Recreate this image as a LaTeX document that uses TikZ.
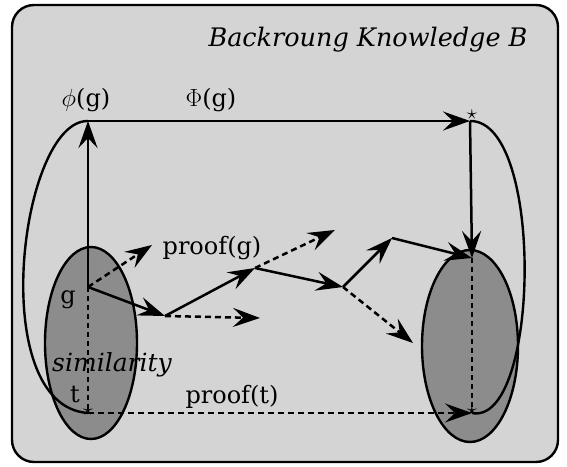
\documentclass[tikz,border=0pt]{standalone}
\usepackage{fontspec}
\setmainfont{DejaVu Serif}
\usetikzlibrary{arrows.meta}
\definecolor{bgdots}{RGB}{212,212,212}
\definecolor{setfill}{RGB}{140,140,140}

\begin{document}
\begin{tikzpicture}[x=1pt,y=1pt,
  sol/.style={line width=2.5pt,-{Stealth[length=27pt,width=19pt,inset=10pt]}},
  dsh/.style={sol,dash pattern=on 6pt off 4pt},
  dline/.style={line width=2.2pt,dash pattern=on 5pt off 4pt},
  lbl/.style={font=\fontsize{24}{26}\selectfont,inner sep=1pt},
  starmk/.style={inner sep=0pt,font=\fontsize{22}{22}\selectfont}]
  \useasboundingbox (0,0) rectangle (567,466);
  % knowledge frame
  \filldraw[bgdots,draw=black,line width=2.4pt,rounded corners=22pt] (12,4) rectangle (558,461);
  % the two sets
  \filldraw[setfill,draw=black,line width=2.4pt] (91,123) ellipse [x radius=46pt,y radius=96pt];
  \filldraw[setfill,draw=black,line width=2.4pt] (470,120) ellipse [x radius=48pt,y radius=96pt];
  % points
  \coordinate (phi) at (88,345);
  \coordinate (topR) at (470,345);
  \coordinate (g) at (88,179);
  \coordinate (t) at (88,53);
  \coordinate (midR) at (472,208);
  \coordinate (botR) at (472,53);
  \coordinate (p1) at (165,150);
  \coordinate (p2) at (255,198);
  \coordinate (p3) at (343,179);
  \coordinate (p4) at (392,228);
  % ends of the side branches
  \coordinate (d0) at (152,221);
  \coordinate (d1) at (260,148);
  \coordinate (d2) at (335,236);
  \coordinate (d3) at (413,123);
  % loops
  \draw[line width=2.4pt] (phi) .. controls (20,346) and (-15,60) .. (t);
  \draw[line width=2.4pt] (topR) .. controls (545,346) and (540,40) .. (botR);
  % mapping
  \draw[sol] (g) -- (phi);
  \draw[sol] (phi) -- (topR);
  \draw[sol] (topR) -- (midR);
  \draw[dline] (g) -- (t);
  \draw[dline] (midR) -- (botR);
  % proof of g
  \draw[sol] (g) -- (p1);
  \draw[sol] (p1) -- (p2);
  \draw[sol] (p2) -- (p3);
  \draw[sol] (p3) -- (p4);
  \draw[sol] (p4) -- (midR);
  \draw[dsh] (g) -- (d0);
  \draw[dsh] (p1) -- (d1);
  \draw[dsh] (p2) -- (d2);
  \draw[dsh] (p3) -- (d3);
  % proof of t
  \draw[dsh] (t) -- (botR);
  % star marks
  \node[starmk] (topRmk) at ([xshift=2pt,yshift=6pt]topR) {$\star$};
  \node[starmk] (tmk) at ([yshift=2pt]t) {$\star$};
  \node[starmk] (botRmk) at ([yshift=2pt]botR) {$\star$};
  % labels
  \node[lbl,font=\fontsize{25.5}{28}\selectfont\itshape] (title) at (368,426) {Backroung Knowledge B};
  \node[lbl] (phil) at (86,366) {$\phi$(g)};
  \node[lbl] (Phil) at (211,366) {$\Phi$(g)};
  \node[lbl] (pgl) at (212,218) {proof(g)};
  \node[lbl] (ptl) at (232,69) {proof(t)};
  \node[lbl] (gl) at (68,166) {g};
  \node[lbl] (tl) at (75,71) {t};
  \node[lbl,font=\fontsize{25}{27}\selectfont\itshape] (siml) at (112,101) {similarity};
\end{tikzpicture}
\end{document}
